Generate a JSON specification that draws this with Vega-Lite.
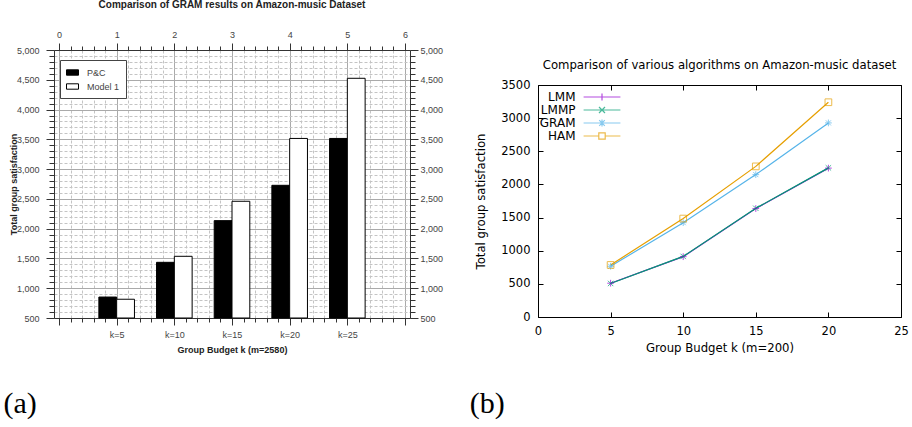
{
  "$schema": "https://vega.github.io/schema/vega-lite/v6.json",
  "background": "white",
  "padding": {"left": 3, "top": 0, "right": 0, "bottom": 0},
  "spacing": 26,
  "config": {"view": {"stroke": null}},
  "datasets": {
    "a": [
      {"k": 5, "series": "P&C", "v": 852},
      {"k": 10, "series": "P&C", "v": 1435},
      {"k": 15, "series": "P&C", "v": 2135},
      {"k": 20, "series": "P&C", "v": 2728},
      {"k": 25, "series": "P&C", "v": 3515},
      {"k": 5, "series": "Model 1", "v": 815},
      {"k": 10, "series": "Model 1", "v": 1536},
      {"k": 15, "series": "Model 1", "v": 2460},
      {"k": 20, "series": "Model 1", "v": 3515},
      {"k": 25, "series": "Model 1", "v": 4525}
    ],
    "b": [
      {"k": 5, "alg": "LMM", "v": 510},
      {"k": 10, "alg": "LMM", "v": 910},
      {"k": 15, "alg": "LMM", "v": 1636},
      {"k": 20, "alg": "LMM", "v": 2246},
      {"k": 5, "alg": "LMMP", "v": 506},
      {"k": 10, "alg": "LMMP", "v": 914},
      {"k": 15, "alg": "LMMP", "v": 1640},
      {"k": 20, "alg": "LMMP", "v": 2250},
      {"k": 5, "alg": "GRAM", "v": 765},
      {"k": 10, "alg": "GRAM", "v": 1423},
      {"k": 15, "alg": "GRAM", "v": 2148},
      {"k": 20, "alg": "GRAM", "v": 2928},
      {"k": 5, "alg": "HAM", "v": 785},
      {"k": 10, "alg": "HAM", "v": 1485},
      {"k": 15, "alg": "HAM", "v": 2272},
      {"k": 20, "alg": "HAM", "v": 3240}
    ]
  },
  "hconcat": [
    {
      "title": {"text": "(a)", "orient": "bottom", "anchor": "start", "font": "Liberation Serif", "fontSize": 30, "fontWeight": "normal", "color": "black", "offset": 35, "dx": -6},
      "vconcat": [
        {
          "width": 356,
          "height": 268,
          "data": {"name": "a"},
          "title": {"text": "Comparison of GRAM results on Amazon-music Dataset", "font": "Liberation Sans", "fontSize": 10, "fontWeight": "bold", "color": "#222", "offset": 20, "anchor": "middle"},
          "layer": [
            {
              "transform": [{"filter": "datum.series === 'P&C'"}],
              "mark": {"type": "bar", "width": 17.8, "xOffset": -8.9, "stroke": "black", "strokeWidth": 1},
              "encoding": {
                "x": {"field": "k", "type": "quantitative", "scale": {"domain": [0, 30], "nice": false, "zero": false},
                  "axis": {"orient": "bottom", "values": [0,1,2,3,4,5,6,7,8,9,10,11,12,13,14,15,16,17,18,19,20,21,22,23,24,25,26,27,28,29,30],
                    "labelExpr": "datum.value % 5 == 0 && datum.value > 0 && datum.value < 30 ? 'k=' + datum.value : ''",
                    "labelOverlap": false, "labelFlush": false, "labelFont": "Liberation Sans", "labelFontSize": 9, "labelColor": "#444", "labelPadding": 5,
                    "tickSize": {"condition": {"test": "datum.value % 5 == 0", "value": 7}, "value": 4},
                    "tickColor": "#333", "domainColor": "#333",
                    "grid": true,
                    "gridDash": {"condition": {"test": "datum.value % 5 == 0", "value": []}, "value": [3, 2]},
                    "gridColor": {"condition": {"test": "datum.value % 5 == 0", "value": "#aaaaaa"}, "value": "#c4c4c4"},
                    "title": "Group Budget k (m=2580)", "titleFont": "Liberation Sans", "titleFontSize": 9, "titleFontWeight": "bold", "titleColor": "#222", "titlePadding": 6}},
                "y": {"field": "v", "type": "quantitative", "scale": {"domain": [500, 5000], "nice": false, "zero": false},
                  "axis": {"orient": "left", "values": [500,600,700,800,900,1000,1100,1200,1300,1400,1500,1600,1700,1800,1900,2000,2100,2200,2300,2400,2500,2600,2700,2800,2900,3000,3100,3200,3300,3400,3500,3600,3700,3800,3900,4000,4100,4200,4300,4400,4500,4600,4700,4800,4900,5000],
                    "labelExpr": "datum.value % 500 == 0 ? format(datum.value, ',') : ''",
                    "labelOverlap": false, "labelFlush": false, "labelFont": "Liberation Sans", "labelFontSize": 9, "labelColor": "#444", "labelPadding": 7,
                    "tickSize": {"condition": {"test": "datum.value % 500 == 0", "value": 8}, "value": 5},
                    "tickColor": "#333", "domainColor": "#333",
                    "grid": true,
                    "gridDash": {"condition": {"test": "datum.value % 500 == 0", "value": []}, "value": [3, 2]},
                    "gridColor": {"condition": {"test": "datum.value % 500 == 0", "value": "#aaaaaa"}, "value": "#c4c4c4"},
                    "title": "Total group satisfaction", "titleFont": "Liberation Sans", "titleFontSize": 9, "titleFontWeight": "bold", "titleColor": "#222", "titlePadding": -2}},
                "y2": {"datum": 500},
                "fill": {"field": "series", "type": "nominal", "scale": {"domain": ["P&C", "Model 1"], "range": ["black", "white"]},
                  "legend": {"orient": "none", "legendX": 6, "legendY": 10, "title": null, "strokeColor": "#444", "fillColor": "white", "padding": 6,
                    "symbolType": "M-1,-0.45H1V0.45H-1Z", "symbolSize": 144, "symbolStrokeColor": "black", "symbolStrokeWidth": 1,
                    "labelFont": "Liberation Sans", "labelFontSize": 9, "labelColor": "#444", "labelOffset": 8, "rowPadding": 2}}
              }
            },
            {
              "transform": [{"filter": "datum.series === 'Model 1'"}],
              "mark": {"type": "bar", "width": 17.8, "xOffset": 8.9, "stroke": "black", "strokeWidth": 1},
              "encoding": {
                "x": {"field": "k", "type": "quantitative", "scale": {"domain": [0, 30], "nice": false, "zero": false},
                  "axis": {"orient": "top", "values": [0,1,2,3,4,5,6,7,8,9,10,11,12,13,14,15,16,17,18,19,20,21,22,23,24,25,26,27,28,29,30],
                    "labelExpr": "datum.value % 5 == 0 ? '' + (datum.value / 5) : ''",
                    "labelOverlap": false, "labelFlush": false, "labelFont": "Liberation Sans", "labelFontSize": 9, "labelColor": "#444", "labelPadding": 4,
                    "tickSize": {"condition": {"test": "datum.value % 5 == 0", "value": 7}, "value": 4},
                    "tickColor": "#333", "domainColor": "#333", "grid": false, "title": null}},
                "y": {"field": "v", "type": "quantitative", "scale": {"domain": [500, 5000], "nice": false, "zero": false},
                  "axis": {"orient": "right", "values": [500,600,700,800,900,1000,1100,1200,1300,1400,1500,1600,1700,1800,1900,2000,2100,2200,2300,2400,2500,2600,2700,2800,2900,3000,3100,3200,3300,3400,3500,3600,3700,3800,3900,4000,4100,4200,4300,4400,4500,4600,4700,4800,4900,5000],
                    "labelExpr": "datum.value % 500 == 0 ? format(datum.value, ',') : ''",
                    "labelOverlap": false, "labelFlush": false, "labelFont": "Liberation Sans", "labelFontSize": 9, "labelColor": "#444", "labelPadding": 2,
                    "tickSize": {"condition": {"test": "datum.value % 500 == 0", "value": 8}, "value": 5},
                    "tickColor": "#333", "domainColor": "#333", "grid": false, "title": null}},
                "y2": {"datum": 500},
                "fill": {"field": "series", "type": "nominal", "scale": {"domain": ["P&C", "Model 1"], "range": ["black", "white"]}}
              }
            }
          ],
          "resolve": {"axis": {"x": "independent", "y": "independent"}}
        }
      ]
    },
    {
      "title": {"text": "(b)", "orient": "bottom", "anchor": "start", "font": "Liberation Serif", "fontSize": 30, "fontWeight": "normal", "color": "black", "offset": 35, "dx": -6},
      "spacing": 9,
      "vconcat": [
        {
          "width": 1,
          "height": 1,
          "data": {"values": []},
          "mark": {"type": "point", "opacity": 0},
          "encoding": {}
        },
        {
          "width": 363,
          "height": 232,
          "data": {"name": "b"},
          "title": {"text": "Comparison of various algorithms on Amazon-music dataset", "font": "DejaVu Sans", "fontSize": 11.7, "fontWeight": "normal", "color": "black", "offset": 7, "anchor": "middle"},
          "layer": [
            {
              "mark": {"type": "line", "strokeWidth": 1.2},
              "encoding": {
                "x": {"field": "k", "type": "quantitative", "scale": {"domain": [0, 25], "nice": false},
                  "axis": {"orient": "bottom", "values": [0, 5, 10, 15, 20, 25], "labelFont": "DejaVu Sans", "labelFontSize": 11.5, "labelColor": "black", "labelFlush": false, "labelOverlap": false,
                    "tickSize": -5, "labelPadding": 13, "tickColor": "black", "domainColor": "black", "grid": false,
                    "title": "Group Budget k (m=200)", "titleFont": "DejaVu Sans", "titleFontSize": 11.7, "titleFontWeight": "normal", "titleColor": "black", "titlePadding": 6}},
                "y": {"field": "v", "type": "quantitative", "scale": {"domain": [0, 3500], "nice": false},
                  "axis": {"orient": "left", "values": [0, 500, 1000, 1500, 2000, 2500, 3000, 3500], "format": "d", "labelFont": "DejaVu Sans", "labelFontSize": 11.5, "labelColor": "black", "labelFlush": false, "labelOverlap": false,
                    "tickSize": -5, "labelPadding": 13, "tickColor": "black", "domainColor": "black", "grid": false,
                    "title": "Total group satisfaction", "titleFont": "DejaVu Sans", "titleFontSize": 11.7, "titleFontWeight": "normal", "titleColor": "black", "titlePadding": 14}},
                "color": {"field": "alg", "type": "nominal", "scale": {"domain": ["LMM", "LMMP", "GRAM", "HAM"], "range": ["#9400d3", "#009e73", "#56b4e9", "#e69f00"]}, "legend": null}
              }
            },
            {
              "mark": {"type": "point", "filled": false, "strokeWidth": 1, "size": 45},
              "encoding": {
                "x": {"field": "k", "type": "quantitative", "scale": {"domain": [0, 25], "nice": false},
                  "axis": {"orient": "top", "values": [0, 5, 10, 15, 20, 25], "labels": false, "tickSize": -5, "tickColor": "black", "domainColor": "black", "grid": false, "title": null}},
                "y": {"field": "v", "type": "quantitative", "scale": {"domain": [0, 3500], "nice": false},
                  "axis": {"orient": "right", "values": [0, 500, 1000, 1500, 2000, 2500, 3000, 3500], "labels": false, "tickSize": -5, "tickColor": "black", "domainColor": "black", "grid": false, "title": null}},
                "color": {"field": "alg", "type": "nominal", "scale": {"domain": ["LMM", "LMMP", "GRAM", "HAM"], "range": ["#9400d3", "#009e73", "#56b4e9", "#e69f00"]}, "legend": null},
                "shape": {"field": "alg", "type": "nominal", "scale": {"domain": ["LMM", "LMMP", "GRAM", "HAM"], "range": ["M-1,0H1M0,-1V1", "M-0.8,-0.8L0.8,0.8M-0.8,0.8L0.8,-0.8", "M-1,0H1M0,-1V1M-0.75,-0.75L0.75,0.75M-0.75,0.75L0.75,-0.75", "square"]}, "legend": null}
              }
            },
            {
              "transform": [{"filter": "false"}],
              "mark": {"type": "point", "filled": false, "strokeWidth": 1.2, "size": 64},
              "encoding": {
                "color": {"field": "alg", "type": "nominal", "scale": {"domain": ["LMM", "LMMP", "GRAM", "HAM"], "range": ["#9400d3", "#009e73", "#56b4e9", "#e69f00"]},
                  "legend": {"orient": "none", "legendX": 58, "legendY": 6, "title": null, "padding": 0, "symbolSize": 64, "symbolStrokeWidth": 1.2,
                    "labelFont": "DejaVu Sans", "labelFontSize": 12, "labelColor": "black", "labelAlign": "right", "labelOffset": -32.5, "rowPadding": 1}},
                "shape": {"field": "alg", "type": "nominal", "scale": {"domain": ["LMM", "LMMP", "GRAM", "HAM"], "range": ["M-4.6,0H4.6M-0.9,0H0.9M0,-0.9V0.9", "M-4.6,0H4.6M-0.75,-0.75L0.75,0.75M-0.75,0.75L0.75,-0.75", "M-4.6,0H4.6M0,-0.9V0.9M-0.7,-0.7L0.7,0.7M-0.7,0.7L0.7,-0.7", "M-4.6,0H-0.8M0.8,0H4.6M-0.8,-0.8H0.8V0.8H-0.8Z"]},
                  "legend": {"orient": "none", "legendX": 58, "legendY": 6, "title": null, "padding": 0, "symbolSize": 64, "symbolStrokeWidth": 1.2,
                    "labelFont": "DejaVu Sans", "labelFontSize": 12, "labelColor": "black", "labelAlign": "right", "labelOffset": -32.5, "rowPadding": 1}}
              }
            }
          ],
          "resolve": {"axis": {"x": "independent", "y": "independent"}, "scale": {"shape": "independent", "color": "independent"}}
        }
      ]
    }
  ]
}
